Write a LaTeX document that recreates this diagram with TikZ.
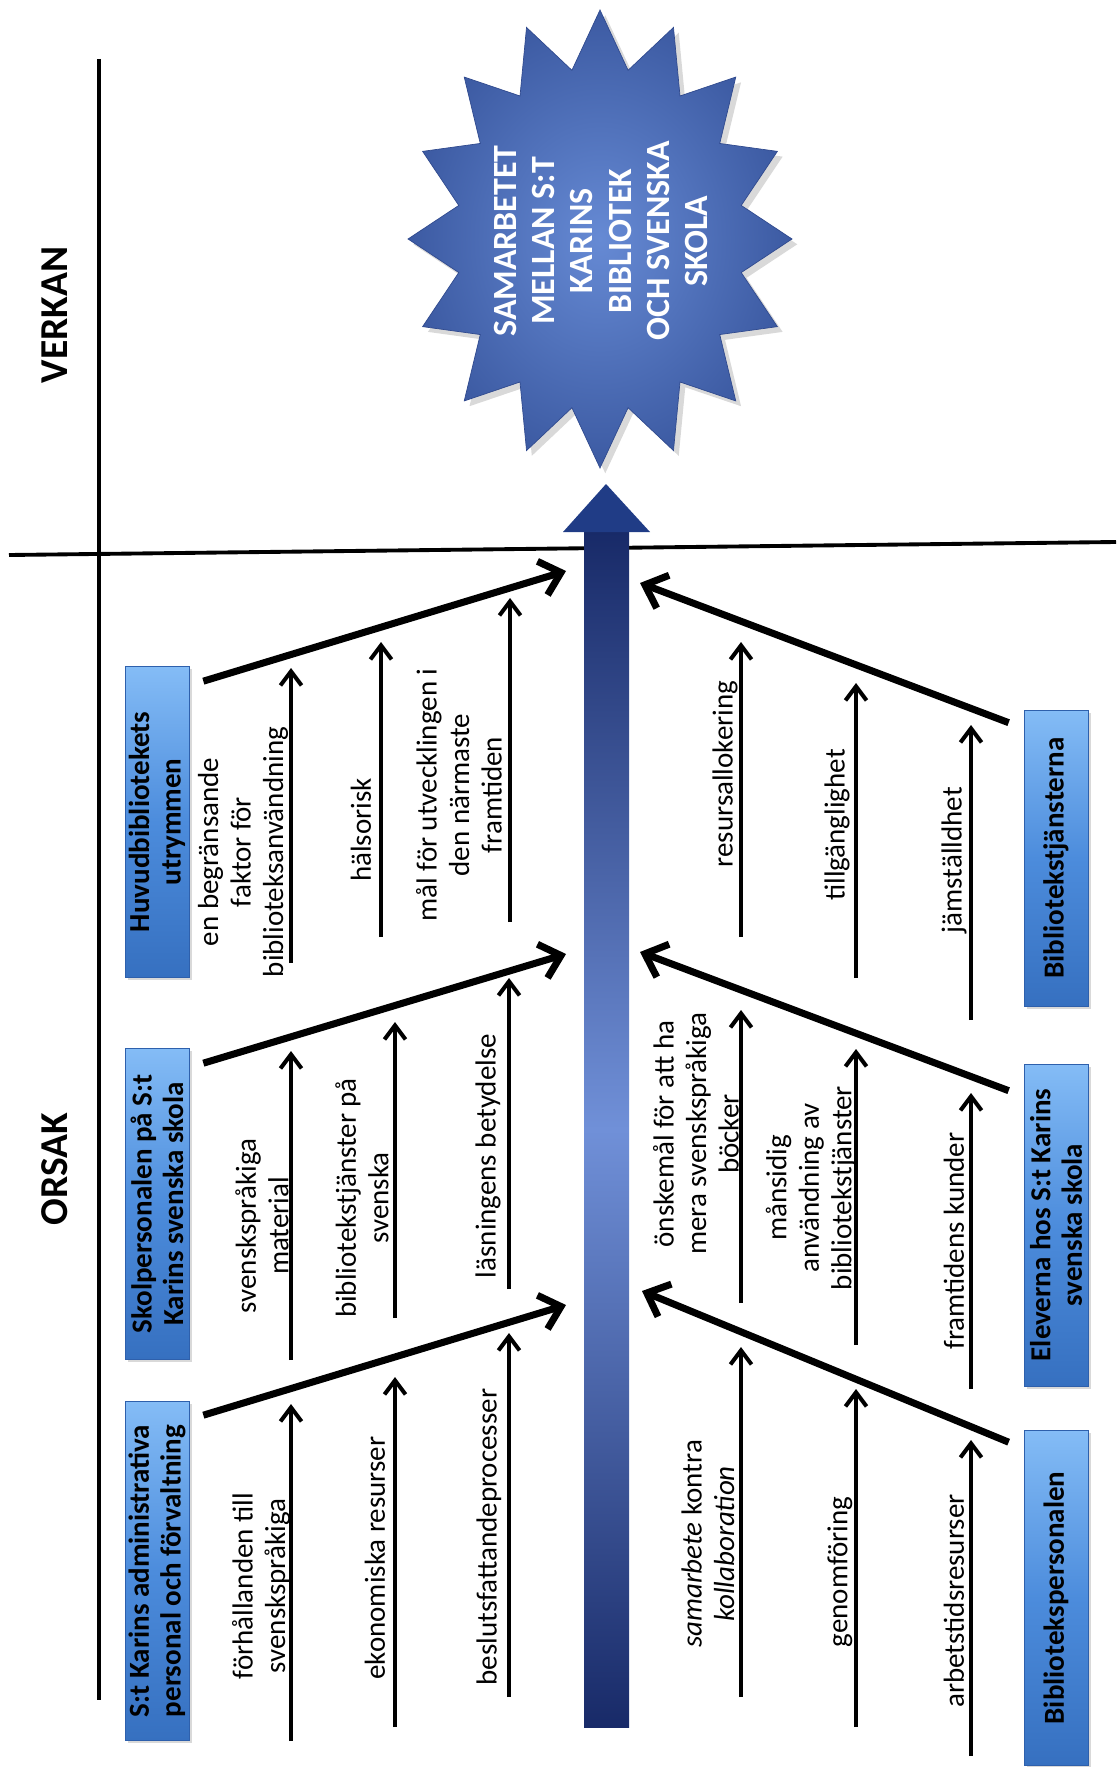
\documentclass[tikz,border=0pt]{standalone}
\usepackage{fontspec}
\setmainfont{Carlito}
\usepackage{tikz}
\usetikzlibrary{arrows.meta,positioning,calc,shadows}

\definecolor{navydark}{RGB}{24,42,104}
\definecolor{navyhead}{RGB}{32,60,134}
\definecolor{spinelight}{RGB}{112,144,216}
\definecolor{starlight}{RGB}{102,138,212}
\definecolor{stardark}{RGB}{60,90,162}
\definecolor{staredge}{RGB}{48,74,142}
\definecolor{boxlight}{RGB}{132,188,246}
\definecolor{boxmid}{RGB}{76,140,220}
\definecolor{boxdark}{RGB}{54,112,192}
\definecolor{boxedge}{RGB}{46,96,172}

\begin{document}
\begin{tikzpicture}[x=0.02cm, y=-0.02cm,
    causebox/.style={rotate=90, draw=boxedge, thin,
      top color=boxlight, bottom color=boxdark, middle color=boxmid,
      minimum height=1.28cm, align=center, inner sep=2pt,
      font=\fontsize{16.5}{18}\selectfont\bfseries,
      drop shadow={opacity=0.3, shadow xshift=1.5pt, shadow yshift=-1.5pt}},
    cause/.style={rotate=90, align=center, inner sep=0pt,
      font=\fontsize{16.5}{18.5}\selectfont},
    heading/.style={rotate=90, font=\fontsize{22.5}{26}\selectfont\bfseries},
    branch/.style={-{Straight Barb[length=11pt,width=20pt]}, line width=4pt},
    twig/.style={-{Straight Barb[length=8pt,width=12pt]}, line width=2.3pt},
    divider/.style={line width=2.2pt}
  ]
  \useasboundingbox (0,0) rectangle (1116,1767);

  % axlar
  \draw[divider] (99,59) -- (99,1700);
  \draw[divider] (9,555) -- (1116,542);
  \node[heading] (verkan) at (55,315) {VERKAN};
  \node[heading] (orsak) at (55,1169) {ORSAK};

  % verkan
  \begin{scope}[shift={(600,239)}]
    \shade[inner color=starlight, outer color=stardark, draw=staredge, thin,
           drop shadow={opacity=0.3, shadow xshift=3pt, shadow yshift=-3pt}]
      (90:192 and 229)
      \foreach \a in {90,112.5,...,435} {
        -- ({\a+11.25}:144 and 172) -- ({\a+22.5}:192 and 229)
      } -- cycle;
  \end{scope}
  \node[rotate=90, align=center, text=white,
        font=\fontsize{19.3}{21.8}\selectfont\bfseries] (effect) at (601,241)
    {SAMARBETET\\MELLAN S:T\\KARINS\\BIBLIOTEK\\OCH SVENSKA\\SKOLA};

  % ryggraden
  \shade[top color=navydark, bottom color=navydark, middle color=spinelight]
    (584,1727) rectangle (629,532);
  \fill[navyhead] (563,532) -- (606,484) -- (650,532) -- cycle;

  % orsaker, vänster
  \node[causebox, minimum width=6.22cm] (b1) at (157,822) {Huvudbibliotekets\\utrymmen};
  \node[causebox, minimum width=6.22cm] (b2) at (157,1204) {Skolpersonalen på S:t\\Karins svenska skola};
  \node[causebox, minimum width=6.78cm] (b3) at (157,1571) {S:t Karins administrativa\\personal och förvaltning};

  \coordinate (t1) at (566,571);
  \coordinate (t2) at (566,954);
  \coordinate (t3) at (566,1305);
  \draw[branch] ($(b1.south east)+(14,15)$) -- (t1);
  \draw[branch] ($(b2.south east)+(14,15)$) -- (t2);
  \draw[branch] ($(b3.south east)+(14,14)$) -- (t3);

  \coordinate (s11) at (291,963);  \coordinate (e11) at (291,668);
  \coordinate (s12) at (381,937);  \coordinate (e12) at (381,642);
  \coordinate (s13) at (510,922);  \coordinate (e13) at (510,598);
  \draw[twig] (s11) -- (e11);
  \draw[twig] (s12) -- (e12);
  \draw[twig] (s13) -- (e13);
  \node[cause] (c11) at (243,852) {en begränsande\\faktor för\\biblioteksanvändning};
  \node[cause] (c12) at (361,830) {hälsorisk};
  \node[cause] (c13) at (459,795) {mål för utvecklingen i\\den närmaste\\framtiden};

  \coordinate (s21) at (291,1360); \coordinate (e21) at (291,1051);
  \coordinate (s22) at (395,1318); \coordinate (e22) at (395,1022);
  \coordinate (s23) at (509,1289); \coordinate (e23) at (509,978);
  \draw[twig] (s21) -- (e21);
  \draw[twig] (s22) -- (e22);
  \draw[twig] (s23) -- (e23);
  \node[cause] (c21) at (262,1226) {svenskspråkiga\\material};
  \node[cause] (c22) at (362,1198) {bibliotekstjänster på\\svenska};
  \node[cause] (c23) at (488,1156) {läsningens betydelse};

  \coordinate (s31) at (291,1741); \coordinate (e31) at (291,1404);
  \coordinate (s32) at (395,1727); \coordinate (e32) at (395,1377);
  \coordinate (s33) at (509,1697); \coordinate (e33) at (509,1333);
  \draw[twig] (s31) -- (e31);
  \draw[twig] (s32) -- (e32);
  \draw[twig] (s33) -- (e33);
  \node[cause] (c31) at (261,1586) {förhållanden till\\svenskspråkiga};
  \node[cause] (c32) at (375,1558) {ekonomiska resurser};
  \node[cause] (c33) at (489,1537) {beslutsfattandeprocesser};

  % orsaker, höger
  \node[causebox, minimum width=5.92cm] (r1) at (1056,858) {Bibliotekstjänsterna};
  \node[causebox, minimum width=6.44cm] (r2) at (1056,1225) {Eleverna hos S:t Karins\\svenska skola};
  \node[causebox, minimum width=6.70cm] (r3) at (1056,1598) {Bibliotekspersonalen};

  \coordinate (u1) at (640,583);
  \coordinate (u2) at (640,952);
  \coordinate (u3) at (642,1291);
  \draw[branch] ($(r1.north east)+(-15,13)$) -- (u1);
  \draw[branch] ($(r2.north east)+(-15,27)$) -- (u2);
  \draw[branch] ($(r3.north east)+(-15,12)$) -- (u3);

  \coordinate (s41) at (741,937);  \coordinate (e41) at (741,642);
  \coordinate (s42) at (856,978);  \coordinate (e42) at (856,683);
  \coordinate (s43) at (971,1020); \coordinate (e43) at (971,725);
  \draw[twig] (s41) -- (e41);
  \draw[twig] (s42) -- (e42);
  \draw[twig] (s43) -- (e43);
  \node[cause] (c41) at (725,774) {resursallokering};
  \node[cause] (c42) at (837,825) {tillgänglighet};
  \node[cause] (c43) at (954,860) {jämställdhet};

  \coordinate (s51) at (741,1303); \coordinate (e51) at (741,1010);
  \coordinate (s52) at (856,1345); \coordinate (e52) at (856,1049);
  \coordinate (s53) at (971,1389); \coordinate (e53) at (971,1093);
  \draw[twig] (s51) -- (e51);
  \draw[twig] (s52) -- (e52);
  \draw[twig] (s53) -- (e53);
  \node[cause] (c51) at (696,1134) {önskemål för att ha\\mera svenskspråkiga\\böcker};
  \node[cause] (c52) at (811,1188) {månsidig\\användning av\\bibliotekstjänster};
  \node[cause] (c53) at (954,1241) {framtidens kunder};

  \coordinate (s61) at (741,1697); \coordinate (e61) at (741,1347);
  \coordinate (s62) at (856,1727); \coordinate (e62) at (856,1389);
  \coordinate (s63) at (971,1756); \coordinate (e63) at (971,1440);
  \draw[twig] (s61) -- (e61);
  \draw[twig] (s62) -- (e62);
  \draw[twig] (s63) -- (e63);
  \node[cause] (c61) at (708,1544) {\textit{samarbete} kontra\\\textit{kollaboration}};
  \node[cause] (c62) at (840,1572) {genomföring};
  \node[cause] (c63) at (954,1601) {arbetstidsresurser};
\end{tikzpicture}
\end{document}
